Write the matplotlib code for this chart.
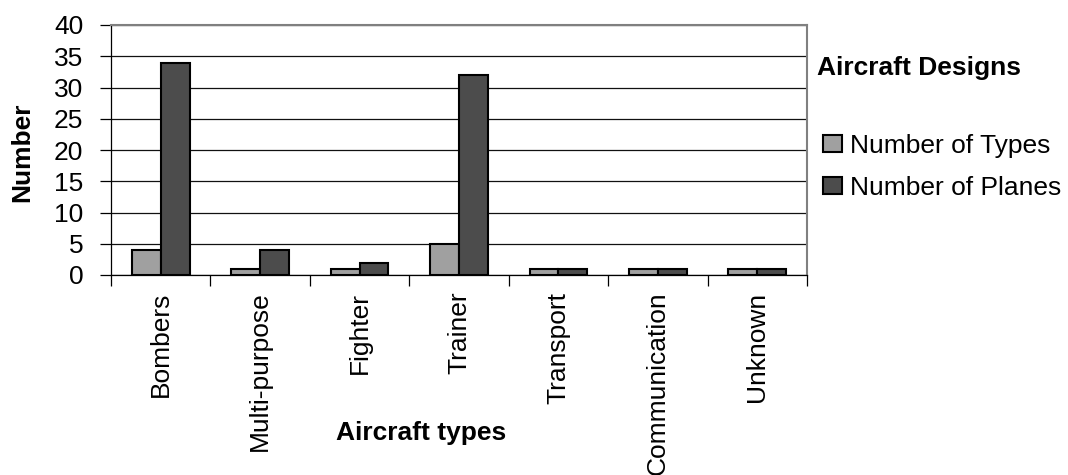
import matplotlib
matplotlib.use("Agg")
import matplotlib.pyplot as plt
import numpy as np
from matplotlib.patches import Patch

plt.rcParams['font.family'] = ['Liberation Sans', 'DejaVu Sans']

categories = ["Bombers", "Multi-purpose", "Fighter", "Trainer",
              "Transport", "Communication", "Unknown"]
num_types = [4, 1, 1, 5, 1, 1, 1]
num_planes = [34, 4, 2, 32, 1, 1, 1]
series_labels = ["Number of Types", "Number of Planes"]
yticks = [0, 5, 10, 15, 20, 25, 30, 35, 40]

FS = 19
light = "#a0a0a0"
dark = "#4c4c4c"

fig = plt.figure(figsize=(10.68, 4.75), dpi=100)
ax = fig.add_axes([111/1068, 1-275/475, (807-111)/1068, 250/475])

x = np.arange(len(categories))
w = 0.29
ax.bar(x - w/2, num_types, w, color=light, edgecolor="black", linewidth=1.5, zorder=3)
ax.bar(x + w/2, num_planes, w, color=dark, edgecolor="black", linewidth=1.5, zorder=3)

ax.set_xlim(-0.5, len(categories) - 0.5)
ax.set_ylim(0, 40)
ax.set_yticks(yticks)
ax.set_yticklabels([str(v) for v in yticks], fontsize=FS)
ax.tick_params(axis="y", direction="out", length=8, width=0.9, pad=12)

ax.set_xticks(x)
ax.set_xticklabels(categories, rotation=90, fontsize=FS)
ax.tick_params(axis="x", which="major", length=0, pad=12)
ax.set_xticks(np.arange(len(categories) + 1) - 0.5, minor=True)
ax.tick_params(axis="x", which="minor", direction="out", length=8, width=0.9)

ax.yaxis.grid(True, color="#111111", linewidth=0.9, zorder=0)
ax.set_axisbelow(True)
for s in ("top", "right"):
    ax.spines[s].set_color("#808080")
    ax.spines[s].set_linewidth(1.5)
for s in ("left", "bottom"):
    ax.spines[s].set_color("black")
    ax.spines[s].set_linewidth(0.9)

fig.text(22/1068, 1-152/475, "Number", rotation=90, fontsize=FS,
         fontweight="bold", ha="center", va="center")
fig.text(421/1068, 1-433/475, "Aircraft types", fontsize=FS,
         fontweight="bold", ha="center", va="center")

fig.text(817/1068, 1-68/475, "Aircraft Designs", fontsize=FS,
         fontweight="bold", ha="left", va="center")
handles = [Patch(facecolor=light, edgecolor="black", linewidth=1.5),
           Patch(facecolor=dark, edgecolor="black", linewidth=1.5)]
fig.legend(handles, series_labels, loc="upper left",
           bbox_to_anchor=(823/1068, 1-134/475), frameon=False,
           fontsize=FS, handlelength=0.72, handleheight=0.62,
           handletextpad=0.3, labelspacing=0.68, borderpad=0, borderaxespad=0)

fig.savefig("out.png", dpi=100)
